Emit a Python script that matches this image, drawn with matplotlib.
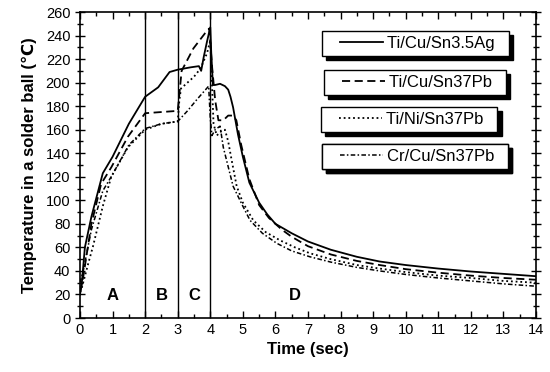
import matplotlib
matplotlib.use("Agg")
import matplotlib.pyplot as plt
from matplotlib.ticker import MultipleLocator
from matplotlib.lines import Line2D
from matplotlib.legend_handler import HandlerLine2D

plt.rcParams['font.family'] = ['Liberation Sans', 'DejaVu Sans']

# Ti/Cu/Sn3.5Ag (solid)
t_ag = [0, 0.05, 0.15, 0.35, 0.7, 1.0, 1.5, 2.0, 2.4, 2.75, 3.0, 3.4, 3.65, 3.72, 3.8,
        3.9, 4.0, 4.03, 4.08, 4.15, 4.3, 4.45, 4.55, 4.62, 4.7, 4.85, 5.0, 5.2, 5.5,
        5.75, 6.0, 6.5, 7.0, 7.7, 8.5, 9.2, 10.0, 11.0, 12.0, 13.0, 14.0]
T_ag = [20, 28, 60, 86, 123, 137, 165, 188, 196, 209, 211, 213, 214, 210, 222,
        235, 247, 225, 198, 198, 199, 197, 194, 188, 179, 156, 137, 115, 98,
        88, 80, 72, 65, 58, 52, 48, 45, 42, 39.5, 37.5, 35.5]

# Ti/Cu/Sn37Pb (dashed)
t_cu = [0, 0.1, 0.35, 0.65, 0.96, 1.47, 2.0, 2.5, 3.0, 3.05, 3.12, 3.48, 3.84, 3.97,
        4.05, 4.15, 4.25, 4.4, 4.55, 4.7, 4.8, 4.95, 5.2, 5.5, 5.8, 6.2, 6.5, 7.0,
        7.7, 8.5, 9.2, 10.0, 11.0, 12.0, 13.0, 14.0]
T_cu = [22, 35, 80, 114, 128, 154, 174, 175, 176, 190, 210, 229, 242, 246,
        215, 185, 168, 168, 172, 172, 168, 147, 118, 96, 85, 75, 69, 61,
        54, 48.5, 45, 41.5, 38.5, 36, 34, 32.5]

# Ti/Ni/Sn37Pb (dotted)
t_ni = [0, 0.04, 0.25, 0.4, 0.7, 0.96, 1.47, 2.0, 2.5, 3.0, 3.05, 3.1, 3.5, 3.7, 3.9,
        4.0, 4.05, 4.1, 4.2, 4.3, 4.45, 4.55, 4.65, 4.81, 5.0, 5.32, 5.7, 6.14, 6.6,
        7.06, 7.7, 8.5, 9.2, 10.0, 11.0, 12.0, 13.0, 14.0]
T_ni = [22, 24, 46, 61, 95, 120, 145, 160, 165, 167, 185, 195, 205, 212, 225,
        236, 200, 165, 155, 158, 160, 150, 135, 112, 98, 83, 73, 66, 60,
        55, 50, 45, 42, 39, 36, 34, 31.5, 30]

# Cr/Cu/Sn37Pb (dash-dot)
t_cr = [0, 0.1, 0.35, 0.7, 1.0, 1.5, 2.0, 2.5, 3.0, 3.3, 3.6, 3.95, 4.0, 4.05, 4.15,
        4.3, 4.4, 4.7, 5.0, 5.22, 5.6, 6.04, 6.5, 7.06, 7.7, 8.5, 9.2, 10.0, 11.0,
        12.0, 13.0, 14.0]
T_cr = [30, 40, 75, 108, 122, 147, 161, 165, 167, 176, 186, 197, 170, 155, 160,
        163, 145, 112, 95, 83, 72, 63.5, 57, 52, 47.5, 43, 40, 37, 34,
        31.5, 29, 27]

series_names = ['Ti/Cu/Sn3.5Ag', 'Ti/Cu/Sn37Pb', 'Ti/Ni/Sn37Pb', 'Cr/Cu/Sn37Pb']
stage_bounds = [2, 3, 4]
stage_labels = ['A', 'B', 'C', 'D']
stage_label_x = [1.0, 2.5, 3.5, 6.6]

styles = [
    dict(linestyle='-', linewidth=1.3),
    dict(linestyle=(0, (4.5, 2.5)), linewidth=1.3),
    dict(linestyle=(0, (1, 1.6)), linewidth=1.3),
    dict(linestyle=(0, (3, 1.5, 1, 1.5)), linewidth=1.1),
]

fig = plt.figure(figsize=(5.5, 3.72), dpi=100)
ax = fig.add_axes([80 / 550, 1 - 318 / 372, 456 / 550, 306 / 372])

curves = [(t_ag, T_ag), (t_cu, T_cu), (t_ni, T_ni), (t_cr, T_cr)]
for (t, T), st in zip(curves, styles):
    ax.plot(t, T, color='black', **st)

for b in stage_bounds:
    ax.axvline(b, color='black', linewidth=1.0)

for lab, x in zip(stage_labels, stage_label_x):
    ax.text(x, 19, lab, ha='center', va='center', fontsize=12, fontweight='bold')

ax.set_xlim(0, 14)
ax.set_ylim(0, 260)
ax.xaxis.set_major_locator(MultipleLocator(1))
ax.xaxis.set_minor_locator(MultipleLocator(0.5))
ax.yaxis.set_major_locator(MultipleLocator(20))
ax.yaxis.set_minor_locator(MultipleLocator(10))
ax.tick_params(which='both', direction='in', top=True, right=True, labelsize=10.5, width=1.0)
ax.tick_params(which='major', length=5)
ax.tick_params(which='minor', length=3)
ax.tick_params(axis='y', which='both', direction='inout')
ax.tick_params(axis='y', which='major', length=7)
ax.tick_params(axis='y', which='minor', length=5)
for s in ax.spines.values():
    s.set_linewidth(1.2)

ax.set_xlabel('Time (sec)', fontsize=12, fontweight='bold', labelpad=4)
ax.set_ylabel('Temperature in a solder ball (\u2103)', fontsize=12, fontweight='bold', labelpad=6)

# one framed box with a drop shadow per series, stacked on the right
box_tops = [0.938, 0.812, 0.690, 0.568]
box_lefts = [0.530, 0.534, 0.528, 0.530]
shadow = {'ox': 3, 'oy': -3, 'facecolor': 'black', 'edgecolor': 'black', 'alpha': 1}
for name, st, x0, y0 in zip(series_names, styles, box_lefts, box_tops):
    h = Line2D([], [], color='black', **st)
    leg = ax.legend([h], [name + '  '], loc='upper left', bbox_to_anchor=(x0, y0),
                    handler_map={Line2D: HandlerLine2D(xpad=0.8)},
                    fontsize=12, frameon=True, fancybox=False, shadow=shadow,
                    framealpha=1, edgecolor='black', handlelength=3.4,
                    borderpad=0.3, handletextpad=0.2, borderaxespad=0)
    leg.get_frame().set_linewidth(1.0)
    ax.add_artist(leg)

fig.savefig('out.png', dpi=100)
